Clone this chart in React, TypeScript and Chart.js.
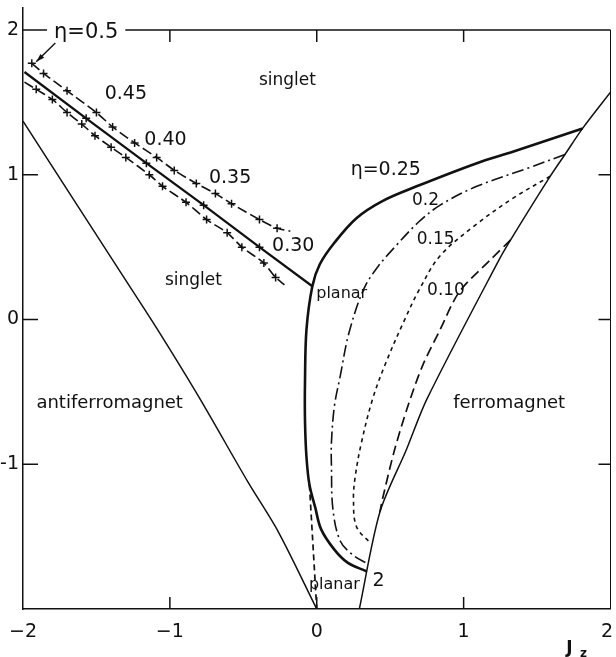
import React, { useEffect, useRef } from "react";
import { Chart, registerables } from "chart.js";

Chart.register(...registerables);

// ---------- data ----------
const xTicks = [-2, -1, 0, 1, 2];
const xTickLabels = ["\u22122", "\u22121", "0", "1", "2"];
const yTicks = [-1, 0, 1, 2];
const yTickLabels = ["-1", "0", "1", "2"];
const innerTicks = [-1, 0, 1];

// antiferromagnet boundary
const afmX = [-2, -1.3, -1.09, -0.8, -0.47, -0.26, 0];
const afmY = [1.37, 0.27, -0.06, -0.54, -1.12, -1.47, -2];

// ferromagnet boundary
const fmX = [0.29, 0.43, 0.61, 0.75, 1.24, 1.32, 1.59, 1.69, 1.81, 2.0];
const fmY = [-2, -1.33, -0.9, -0.55, 0.41, 0.55, 0.99, 1.14, 1.32, 1.57];

// eta = 0.25 (thick)
const eta25X = [1.81, 1.34, 1.09, 0.68, 0.45, 0.27, 0.12, 0.02, -0.03, -0.07, -0.08, -0.08, -0.07, -0.05, -0.01, 0.03, 0.12, 0.21, 0.34];
const eta25Y = [1.32, 1.16, 1.08, 0.92, 0.82, 0.7, 0.53, 0.38, 0.23, -0.07, -0.43, -0.7, -0.95, -1.14, -1.3, -1.45, -1.59, -1.68, -1.74];

// eta = 0.2 (dash-dot)
const eta20X = [1.69, 1.45, 1.09, 0.84, 0.69, 0.54, 0.42, 0.32, 0.22, 0.16, 0.12, 0.1, 0.1, 0.11, 0.16, 0.25, 0.35];
const eta20Y = [1.14, 1.05, 0.92, 0.79, 0.67, 0.51, 0.37, 0.21, -0.09, -0.39, -0.6, -0.85, -1.01, -1.31, -1.53, -1.63, -1.69];

// eta = 0.15 (short dashes)
const eta15X = [1.59, 1.34, 1.09, 0.84, 0.7, 0.59, 0.47, 0.38, 0.3, 0.26, 0.25, 0.27, 0.37];
const eta15Y = [0.99, 0.84, 0.66, 0.44, 0.21, -0.02, -0.3, -0.55, -0.87, -1.1, -1.24, -1.43, -1.55];

// eta = 0.10 (long dashes)
const eta10X = [1.32, 1.18, 0.97, 0.84, 0.72, 0.62, 0.53, 0.45, 0.43];
const eta10Y = [0.55, 0.41, 0.19, -0.07, -0.32, -0.6, -0.9, -1.23, -1.33];

// planar boundary (dashed, near Jz = 0)
const planarX = [-0.05, 0.0];
const planarY = [-1.14, -2];

// eta = 0.30 solid line with markers
const eta30X = [-1.99, -1.57, -1.16, -0.77, -0.39, -0.03];
const eta30Y = [1.71, 1.39, 1.08, 0.79, 0.5, 0.23];

// upper marked line
const upperX = [-1.94, -1.86, -1.7, -1.5, -1.39, -1.24, -1.09, -0.97, -0.82, -0.69, -0.58, -0.39, -0.27, -0.18];
const upperY = [1.77, 1.7, 1.58, 1.43, 1.33, 1.22, 1.12, 1.03, 0.94, 0.87, 0.8, 0.69, 0.63, 0.61];

// lower marked line
const lowerX = [-1.99, -1.91, -1.8, -1.7, -1.6, -1.51, -1.4, -1.3, -1.14, -1.05, -0.89, -0.75, -0.61, -0.51, -0.36, -0.28, -0.22];
const lowerY = [1.64, 1.59, 1.52, 1.43, 1.35, 1.27, 1.19, 1.12, 1.0, 0.92, 0.81, 0.69, 0.6, 0.5, 0.39, 0.29, 0.24];

// arrow for eta = 0.5
const arrowX = [-1.78, -1.91];
const arrowY = [1.91, 1.78];

// text annotations
const labelTexts = ["\u03B7=0.5", "singlet", "0.45", "0.40", "0.35", "0.30", "singlet", "planar", "\u03B7=0.25", "0.2", "0.15", "0.10", "antiferromagnet", "ferromagnet", "planar", "2"];
const labelX = [-1.57, -0.2, -1.3, -1.03, -0.59, -0.16, -0.84, 0.17, 0.47, 0.74, 0.81, 0.88, -1.41, 1.31, 0.12, 0.42];
const labelY = [1.98, 1.65, 1.56, 1.24, 0.98, 0.51, 0.27, 0.18, 1.03, 0.82, 0.55, 0.2, -0.58, -0.58, -1.83, -1.81];

// ---------- styles ----------
const INK = "#111";
const FONT = "'DejaVu Sans', sans-serif";
const labelSize = [21, 17, 19, 19, 19, 19, 17, 16, 19, 17, 17, 17, 18, 18, 16, 19];

const pts = (xs: number[], ys: number[]) => xs.map((x, i) => ({ x, y: ys[i] }));
const markerRadius = (n: number, skipFirst: boolean) =>
  Array.from({ length: n }, (_, i) => (i === n - 1 || (skipFirst && i === 0) ? 0 : 4));

const decor = {
  id: "decor",
  beforeDatasetsDraw(chart: any) {
    const { ctx } = chart;
    const x = chart.scales.x;
    const y = chart.scales.y;
    ctx.save();
    ctx.strokeStyle = INK;
    ctx.lineWidth = 1.5;
    const yTop = y.getPixelForValue(2);
    const xR = x.getPixelForValue(2);
    const xL = x.getPixelForValue(-2);
    const yB = y.getPixelForValue(-2);
    ctx.beginPath();
    ctx.moveTo(xL, yTop);
    ctx.lineTo(xR, yTop);
    ctx.stroke();
    ctx.lineWidth = 1;
    ctx.beginPath();
    ctx.moveTo(xR, yTop);
    ctx.lineTo(xR, yB);
    ctx.stroke();
    ctx.lineWidth = 1.5;
    ctx.beginPath();
    innerTicks.forEach((v) => {
      const px = x.getPixelForValue(v);
      ctx.moveTo(px, yB);
      ctx.lineTo(px, yB - 12);
      ctx.moveTo(px, yTop);
      ctx.lineTo(px, yTop + 12);
      const py = y.getPixelForValue(v);
      ctx.moveTo(xL, py);
      ctx.lineTo(xL + 15, py);
      ctx.moveTo(xR, py);
      ctx.lineTo(xR - 12, py);
    });
    ctx.stroke();
    ctx.restore();
  },
  afterDatasetsDraw(chart: any) {
    const { ctx } = chart;
    const x = chart.scales.x;
    const y = chart.scales.y;
    const W = chart.width;
    ctx.save();
    ctx.fillStyle = INK;
    ctx.textAlign = "center";
    ctx.textBaseline = "middle";
    labelTexts.forEach((t, i) => {
      ctx.font = `${labelSize[i]}px ${FONT}`;
      const px = x.getPixelForValue(labelX[i]);
      const py = y.getPixelForValue(labelY[i]);
      if (i === 0) {
        const w = ctx.measureText(t).width;
        ctx.fillStyle = "#fff";
        ctx.fillRect(px - w / 2 - 7, py - 9, w + 14, 18);
        ctx.fillStyle = INK;
      }
      ctx.fillText(t, px, py);
    });
    // arrow head
    const ax0 = x.getPixelForValue(arrowX[0]);
    const ay0 = y.getPixelForValue(arrowY[0]);
    const ax1 = x.getPixelForValue(arrowX[1]);
    const ay1 = y.getPixelForValue(arrowY[1]);
    const ang = Math.atan2(ay1 - ay0, ax1 - ax0);
    ctx.beginPath();
    ctx.moveTo(ax1, ay1);
    ctx.lineTo(ax1 - 9 * Math.cos(ang - 0.3), ay1 - 9 * Math.sin(ang - 0.3));
    ctx.lineTo(ax1 - 9 * Math.cos(ang + 0.3), ay1 - 9 * Math.sin(ang + 0.3));
    ctx.closePath();
    ctx.fill();
    // x tick labels
    ctx.font = `19px ${FONT}`;
    const yLab = y.getPixelForValue(-2) + 23;
    xTicks.forEach((v, i) => {
      const w = ctx.measureText(xTickLabels[i]).width;
      let px = x.getPixelForValue(v);
      px = Math.max(w / 2 + 2, Math.min(W - w / 2 - 3, px));
      ctx.fillText(xTickLabels[i], px, yLab);
    });
    // axis title J_z
    const tx = x.getPixelForValue(2) - 41;
    const ty = y.getPixelForValue(-2) + 40;
    ctx.font = `bold 17px ${FONT}`;
    ctx.fillText("J", tx, ty);
    ctx.font = `bold 12px ${FONT}`;
    ctx.fillText("z", tx + 14, ty + 5);
    ctx.restore();
  },
};

export default function App() {
  const ref = useRef<HTMLCanvasElement | null>(null);
  useEffect(() => {
    if (!ref.current) return;
    const line = (xs: number[], ys: number[], extra: any = {}) => ({
      data: pts(xs, ys),
      showLine: true,
      borderColor: INK,
      backgroundColor: INK,
      borderWidth: 1.5,
      pointRadius: 0,
      fill: false,
      tension: 0,
      ...extra,
    });
    const chart = new Chart(ref.current, {
      type: "scatter",
      data: {
        datasets: [
          line(afmX, afmY, { borderWidth: 1.5, tension: 0.3 }),
          line(fmX, fmY, { borderWidth: 1.5, tension: 0.3 }),
          line(eta25X, eta25Y, { borderWidth: 2.6, tension: 0.35 }),
          line(eta20X, eta20Y, { borderWidth: 1.6, tension: 0.35, borderDash: [12, 4, 2, 4] }),
          line(eta15X, eta15Y, { borderWidth: 1.6, tension: 0.35, borderDash: [4, 4] }),
          line(eta10X, eta10Y, { borderWidth: 1.7, tension: 0.3, borderDash: [10, 5] }),
          line(planarX, planarY, { borderWidth: 1.7, borderDash: [6, 4] }),
          line(eta30X, eta30Y, {
            borderWidth: 2.3,
            pointStyle: "cross",
            pointRadius: markerRadius(eta30X.length, true),
            pointBorderWidth: 1.5,
            pointBorderColor: INK,
          }),
          line(upperX, upperY, {
            borderWidth: 1.6,
            tension: 0.2,
            borderDash: [10, 4],
            pointStyle: "cross",
            pointRadius: markerRadius(upperX.length, false),
            pointBorderWidth: 1.5,
            pointBorderColor: INK,
          }),
          line(lowerX, lowerY, {
            borderWidth: 1.6,
            tension: 0.2,
            borderDash: [10, 4],
            pointStyle: "cross",
            pointRadius: markerRadius(lowerX.length, true),
            pointBorderWidth: 1.5,
            pointBorderColor: INK,
          }),
          line(arrowX, arrowY, { borderWidth: 1.4 }),
        ],
      },
      options: {
        animation: false,
        responsive: false,
        maintainAspectRatio: false,
        events: [],
        layout: { padding: { top: 8, right: 1, left: 0, bottom: 0 } },
        plugins: { legend: { display: false }, tooltip: { enabled: false } },
        scales: {
          x: {
            type: "linear",
            min: -2,
            max: 2,
            grid: { display: false, drawTicks: false },
            border: { display: true, color: INK, width: 1.5 },
            ticks: { display: false },
            afterFit: (s: any) => {
              s.height = 48;
              s.paddingLeft = 0;
              s.paddingRight = 0;
            },
          },
          y: {
            type: "linear",
            min: -2,
            max: 2.152,
            grid: { display: false, drawTicks: false },
            border: { display: true, color: INK, width: 1.5 },
            afterBuildTicks: (s: any) => {
              s.ticks = yTicks.map((v) => ({ value: v }));
            },
            ticks: {
              autoSkip: false,
              padding: 4,
              color: INK,
              font: { family: FONT, size: 19 },
              callback: (v: any) => yTickLabels[yTicks.indexOf(Number(v))] ?? "",
            },
            afterFit: (s: any) => {
              s.width = 23;
              s.paddingTop = 0;
              s.paddingBottom = 0;
            },
          },
        },
      },
      plugins: [decor],
    } as any);
    return () => chart.destroy();
  }, []);
  return (
    <div style={{ position: "fixed", left: 0, top: 0, width: 616, height: 657, overflow: "hidden", background: "#fff" }}>
      <canvas ref={ref} width={616} height={657} style={{ display: "block" }} />
    </div>
  );
}
